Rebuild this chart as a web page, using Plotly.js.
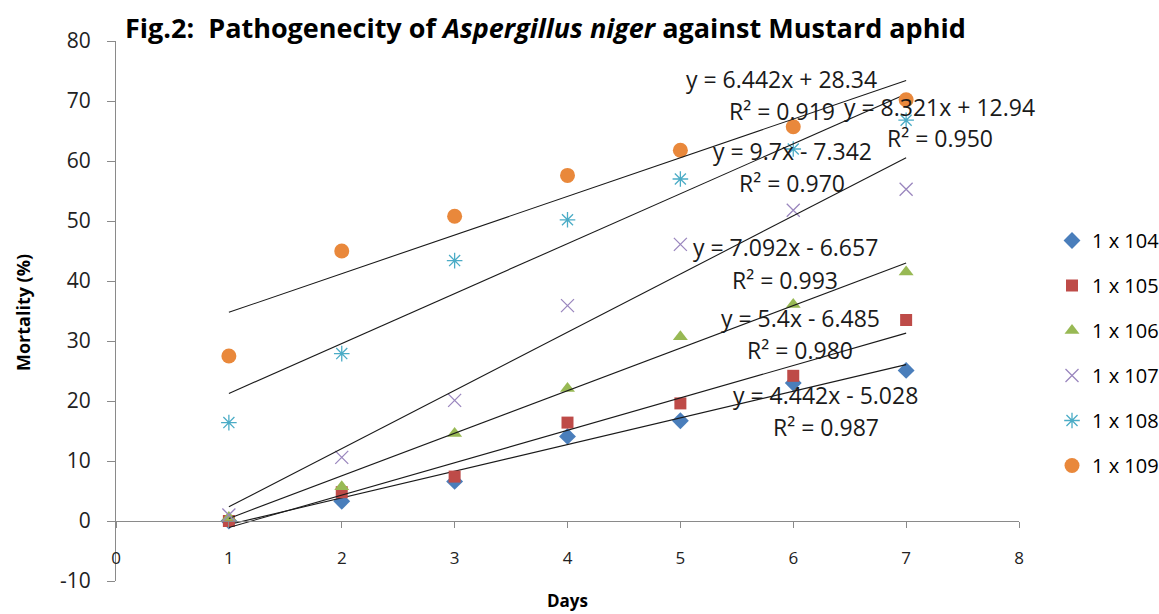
<!DOCTYPE html>
<html>
<head>
<meta charset="utf-8">
<script src="https://cdn.plot.ly/plotly-3.0.1.min.js"></script>
<style>
  html, body { margin: 0; padding: 0; background: #fff; }
  #chart { width: 1159px; height: 614px; }
</style>
</head>
<body>
<div id="chart"></div>
<script>
// Days after treatment
const days = [1, 2, 3, 4, 5, 6, 7];

// Mortality (%) per spore concentration
const mort104 = [0.0, 3.3, 6.6, 14.1, 16.7, 23.0, 25.1];
const mort105 = [0.0, 4.8, 7.4, 16.4, 19.6, 24.2, 33.5];
const mort106 = [0.6, 5.7, 14.6, 22.1, 30.7, 36.1, 41.5];
const mort107 = [1.0, 10.6, 20.1, 35.9, 46.1, 51.8, 55.3];
const mort108 = [16.4, 27.9, 43.4, 50.2, 57.0, 62.0, 66.8];
const mort109 = [27.5, 45.0, 50.8, 57.6, 61.8, 65.7, 70.2];

const seriesNames = ["1 x 104", "1 x 105", "1 x 106", "1 x 107", "1 x 108", "1 x 109"];

// Linear trend lines: y = slope * x + intercept
const slopes     = [4.442, 5.4, 7.092, 9.7, 8.321, 6.442];
const intercepts = [-5.028, -6.485, -6.657, -7.342, 12.94, 28.34];
const rSquared   = ["0.987", "0.980", "0.993", "0.970", "0.950", "0.919"];

// Axis tick labels
const yTickVals = [-10, 0, 10, 20, 30, 40, 50, 60, 70, 80];
const yTickText = ["-10", "0", "10", "20", "30", "40", "50", "60", "70", "80"];

const values = [mort104, mort105, mort106, mort107, mort108, mort109];

const markerStyles = [
  { symbol: "diamond",       size: 13, color: "#4A7EBB" },
  { symbol: "square",        size: 12, color: "#BE4B48" },
  { symbol: "triangle-up",   size: 13, color: "#98B954" },
  { symbol: "x-thin-open",   size: 13, color: "#9A86BE", line: { width: 1.3, color: "#9A86BE" } },
  { symbol: "asterisk-open", size: 13, color: "#4BACC6", line: { width: 1.3, color: "#4BACC6" } },
  { symbol: "circle",        size: 15, color: "#E9883B" }
];

// Where each equation block sits (centre of text, axis units)
const labelPlacement = [
  { x: 6.29, y1: 21.0, y2: 15.7 },
  { x: 6.06, y1: 33.9, y2: 28.5 },
  { x: 5.93, y1: 45.7, y2: 40.2 },
  { x: 5.99, y1: 61.6, y2: 56.4 },
  { x: 7.30, y1: 69.0, y2: 63.8 },
  { x: 5.90, y1: 73.6, y2: 68.4 }
];

const FONT = "Open Sans, Liberation Sans, sans-serif";

function fmtEq(m, b) {
  const sign = b < 0 ? " - " : " + ";
  return "y = " + m + "x" + sign + Math.abs(b);
}

const traces = [];
const annotations = [];

values.forEach((ys, i) => {
  traces.push({
    x: days, y: ys, type: "scatter", mode: "markers",
    name: seriesNames[i], legendgroup: "g" + i,
    marker: markerStyles[i], cliponaxis: false
  });
  const x0 = days[0], x1 = days[days.length - 1];
  traces.push({
    x: [x0, x1],
    y: [slopes[i] * x0 + intercepts[i], slopes[i] * x1 + intercepts[i]],
    type: "scatter", mode: "lines", showlegend: false, hoverinfo: "skip",
    line: { color: "#1a1a1a", width: 1.1 }
  });
  const p = labelPlacement[i];
  annotations.push({
    x: p.x, y: p.y1, xref: "x", yref: "y", showarrow: false,
    xanchor: "center", yanchor: "middle",
    text: fmtEq(slopes[i], intercepts[i]),
    font: { family: FONT, size: 23, color: "#1a1a1a" }
  });
  annotations.push({
    x: p.x, y: p.y2, xref: "x", yref: "y", showarrow: false,
    xanchor: "center", yanchor: "middle",
    text: "R² = " + rSquared[i],
    font: { family: FONT, size: 23, color: "#1a1a1a" }
  });
});

// Axis titles
annotations.push({
  text: "<b>Days</b>", xref: "paper", yref: "paper", x: 0.5, y: -0.036,
  xanchor: "center", yanchor: "middle",
  showarrow: false, font: { family: FONT, size: 17, color: "#000" }
});
annotations.push({
  text: "<b>Mortality (%)</b>", xref: "paper", yref: "paper", x: -0.103, y: 0.498,
  xanchor: "center", yanchor: "middle",
  textangle: -90, showarrow: false, font: { family: FONT, size: 18, color: "#000" }
});

const layout = {
  width: 1159, height: 614,
  margin: { l: 116, r: 140, t: 41, b: 33 },
  paper_bgcolor: "#fff", plot_bgcolor: "#fff",
  title: {
    text: "<b>Fig.2:  Pathogenecity of <i>Aspergillus niger</i> against Mustard aphid</b>",
    xref: "container", yref: "container",
    x: 125 / 1159, xanchor: "left", y: 1 - 29 / 614, yanchor: "middle",
    font: { family: FONT, size: 27, color: "#000" }
  },
  xaxis: {
    range: [0, 8], dtick: 1, tick0: 0,
    anchor: "free", position: 10 / 90,
    showgrid: false, zeroline: false,
    showline: true, linecolor: "#8a8a8a", linewidth: 1,
    ticks: "outside", ticklen: 6, tickcolor: "#8a8a8a",
    ticklabelstandoff: 16,
    tickfont: { family: FONT, size: 17, color: "#222" }
  },
  yaxis: {
    range: [-10, 80], tickmode: "array", tickvals: yTickVals, ticktext: yTickText,
    showgrid: false, zeroline: false,
    showline: true, linecolor: "#8a8a8a", linewidth: 1,
    ticks: "outside", ticklen: 8, tickcolor: "#8a8a8a",
    ticklabelstandoff: 12,
    tickfont: { family: FONT, size: 21, color: "#222" }
  },
  legend: {
    xref: "container", yref: "container",
    x: 1052 / 1159, xanchor: "left",
    y: 1 - 221 / 614, yanchor: "top",
    traceorder: "grouped", tracegroupgap: 16,
    font: { family: FONT, size: 20, color: "#000" },
    bgcolor: "rgba(0,0,0,0)"
  },
  showlegend: true,
  annotations: annotations
};

Plotly.newPlot("chart", traces, layout, { displayModeBar: false, staticPlot: true });
</script>
</body>
</html>
